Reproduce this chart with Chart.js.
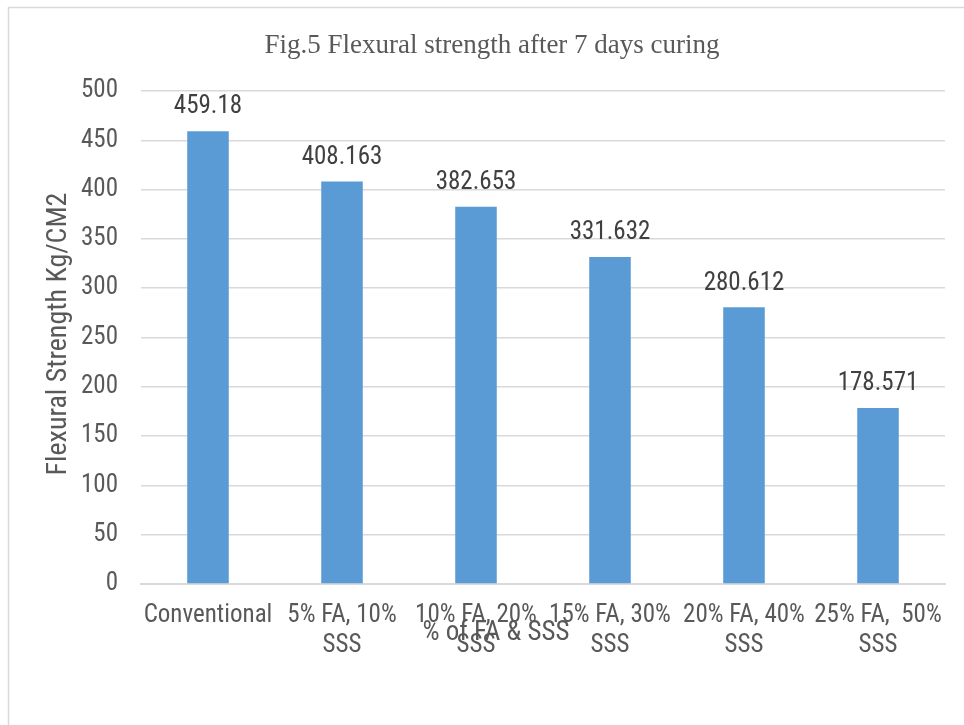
<!DOCTYPE html>
<html>
<head>
<meta charset="utf-8">
<script src="https://cdn.jsdelivr.net/npm/chart.js@4"></script>
<style>
html,body{margin:0;padding:0;background:#fff;}
#wrap{position:relative;width:964px;height:725px;}
</style>
</head>
<body>
<div id="wrap"><canvas id="c" width="964" height="725"></canvas></div>
<script>
const categories = [
  ["Conventional"],
  ["5% FA, 10%", "SSS"],
  ["10% FA, 20%", "SSS"],
  ["15% FA, 30%", "SSS"],
  ["20% FA, 40%", "SSS"],
  ["25% FA,  50%", "SSS"]
];
const strengthValues = [459.18, 408.163, 382.653, 331.632, 280.612, 178.571];
const valueLabels = ["459.18", "408.163", "382.653", "331.632", "280.612", "178.571"];
const yTicks = [0, 50, 100, 150, 200, 250, 300, 350, 400, 450, 500];
const chartTitle = "Fig.5 Flexural strength after 7 days curing";
const xTitle = "% of FA & SSS";
const yTitle = "Flexural Strength Kg/CM2";

const NARROW = "'Liberation Sans Narrow', 'Roboto Condensed', 'Arial Narrow', Roboto, sans-serif";

const decor = {
  id: 'decor',
  beforeDraw(chart) {
    const ctx = chart.ctx;
    ctx.save();
    ctx.fillStyle = '#fff';
    ctx.fillRect(0, 0, chart.width, chart.height);
    ctx.strokeStyle = '#d9d9d9';
    ctx.lineWidth = 1.5;
    ctx.strokeRect(8.5, 7.5, 1000, 800);
    ctx.restore();
  },
  afterDraw(chart) {
    const ctx = chart.ctx;
    ctx.save();
    ctx.fillStyle = '#595959';
    ctx.font = "27px 'Liberation Serif', 'Times New Roman', serif";
    ctx.textAlign = 'center';
    ctx.textBaseline = 'middle';
    ctx.fillText(chartTitle, 492, 46);
    ctx.font = "27px " + NARROW;
    ctx.fillText(xTitle, 496, 633);
    ctx.translate(59, 334);
    ctx.rotate(-Math.PI / 2);
    ctx.font = "28px " + NARROW;
    ctx.fillText(yTitle, 0, 0);
    ctx.restore();
    ctx.save();
    ctx.fillStyle = '#404040';
    ctx.font = "25px " + NARROW;
    ctx.textAlign = 'center';
    ctx.textBaseline = 'middle';
    const meta = chart.getDatasetMeta(0);
    meta.data.forEach((bar, i) => {
      ctx.fillText(valueLabels[i], bar.x, bar.y - 24);
    });
    ctx.restore();
  }
};

new Chart(document.getElementById('c'), {
  type: 'bar',
  data: {
    labels: categories,
    datasets: [{
      data: strengthValues,
      backgroundColor: '#5b9bd5',
      borderWidth: 0,
      categoryPercentage: 1.0,
      barPercentage: 0.31
    }]
  },
  options: {
    responsive: false,
    animation: false,
    devicePixelRatio: 1,
    layout: { padding: { left: 10, right: 19, top: 91, bottom: 0 } },
    plugins: { legend: { display: false }, tooltip: { enabled: false }, title: { display: false } },
    scales: {
      x: {
        grid: { display: false, drawTicks: false },
        border: { color: '#d9d9d9', width: 2 },
        ticks: {
          color: '#595959',
          font: { family: NARROW, size: 25 },
          padding: 17,
          maxRotation: 0,
          autoSkip: false
        },
        afterFit(s) { s.height = 725 - 584; }
      },
      y: {
        min: 0, max: 500,
        afterBuildTicks(s) { s.ticks = yTicks.map(v => ({ value: v })); },
        grid: { color: '#d9d9d9', lineWidth: 1.5, drawTicks: false },
        border: { display: false },
        ticks: {
          color: '#595959',
          font: { family: NARROW, size: 25 },
          padding: 23
        },
        afterFit(s) { s.width = 131; }
      }
    }
  },
  plugins: [decor]
});
</script>
</body>
</html>
